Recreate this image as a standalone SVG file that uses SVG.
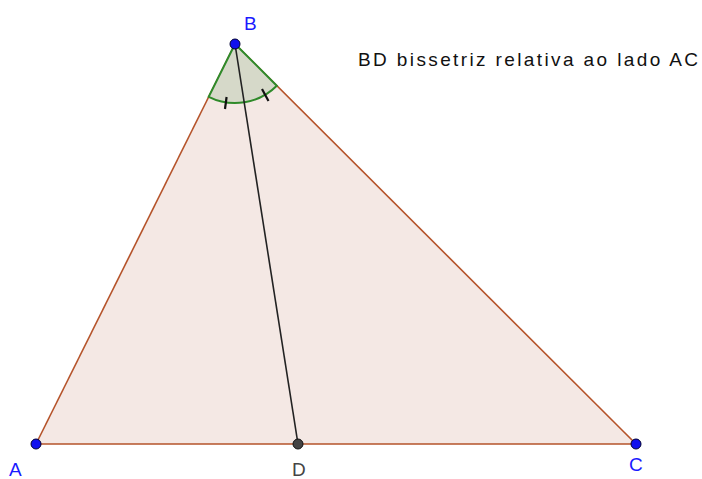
<svg xmlns="http://www.w3.org/2000/svg" width="702" height="479" viewBox="0 0 702 479">
<style>
.lbl{font-family:"Liberation Sans",Arial,sans-serif;font-size:19px;}
.blue{fill:#1a1aff;}
.pt{fill:#1010ee;stroke:#000033;stroke-width:1;}
.seg{stroke:#b5532a;stroke-width:1.6;fill:none;}
</style>
<rect width="702" height="479" fill="#ffffff"/>
<g id="triangle">
<polygon points="36,444 235,44 636,444" fill="#f4e8e4" stroke="none"/>
<line class="seg" x1="36" y1="444" x2="235" y2="44"/>
<line class="seg" x1="235" y1="44" x2="636" y2="444"/>
<line class="seg" x1="36" y1="444" x2="636" y2="444"/>
</g>
<g id="angle">
<path d="M235,44 L208.7,96.8 A59,59 0 0 0 276.8,85.7 Z" fill="#d6d9c9" stroke="none"/>
<path d="M235,44 L208.7,96.8 A59,59 0 0 0 276.8,85.7 Z" fill="none" stroke="#2f8a2a" stroke-width="2"/>
<line x1="226.6" y1="97" x2="225" y2="109" stroke="#111" stroke-width="2.2"/>
<line x1="262" y1="89" x2="268.5" y2="101" stroke="#111" stroke-width="2.2"/>
</g>
<g id="connectors">
<line x1="235" y1="44" x2="298" y2="444" stroke="#222" stroke-width="1.6"/>
</g>
<g id="B">
<circle class="pt" cx="235" cy="44" r="5"/>
<text class="lbl blue" x="244" y="30">B</text>
</g>
<g id="A">
<circle class="pt" cx="36" cy="444" r="5"/>
<text class="lbl blue" x="9" y="476">A</text>
</g>
<g id="D">
<circle cx="298" cy="444" r="5" fill="#444" stroke="#111" stroke-width="1"/>
<text class="lbl" x="292" y="476" fill="#444">D</text>
</g>
<g id="C">
<circle class="pt" cx="636" cy="444" r="5"/>
<text class="lbl blue" x="629" y="471">C</text>
</g>
<text class="lbl" x="358" y="66" font-size="21" textLength="340" lengthAdjust="spacing" fill="#111">BD bissetriz relativa ao lado AC</text>
</svg>
